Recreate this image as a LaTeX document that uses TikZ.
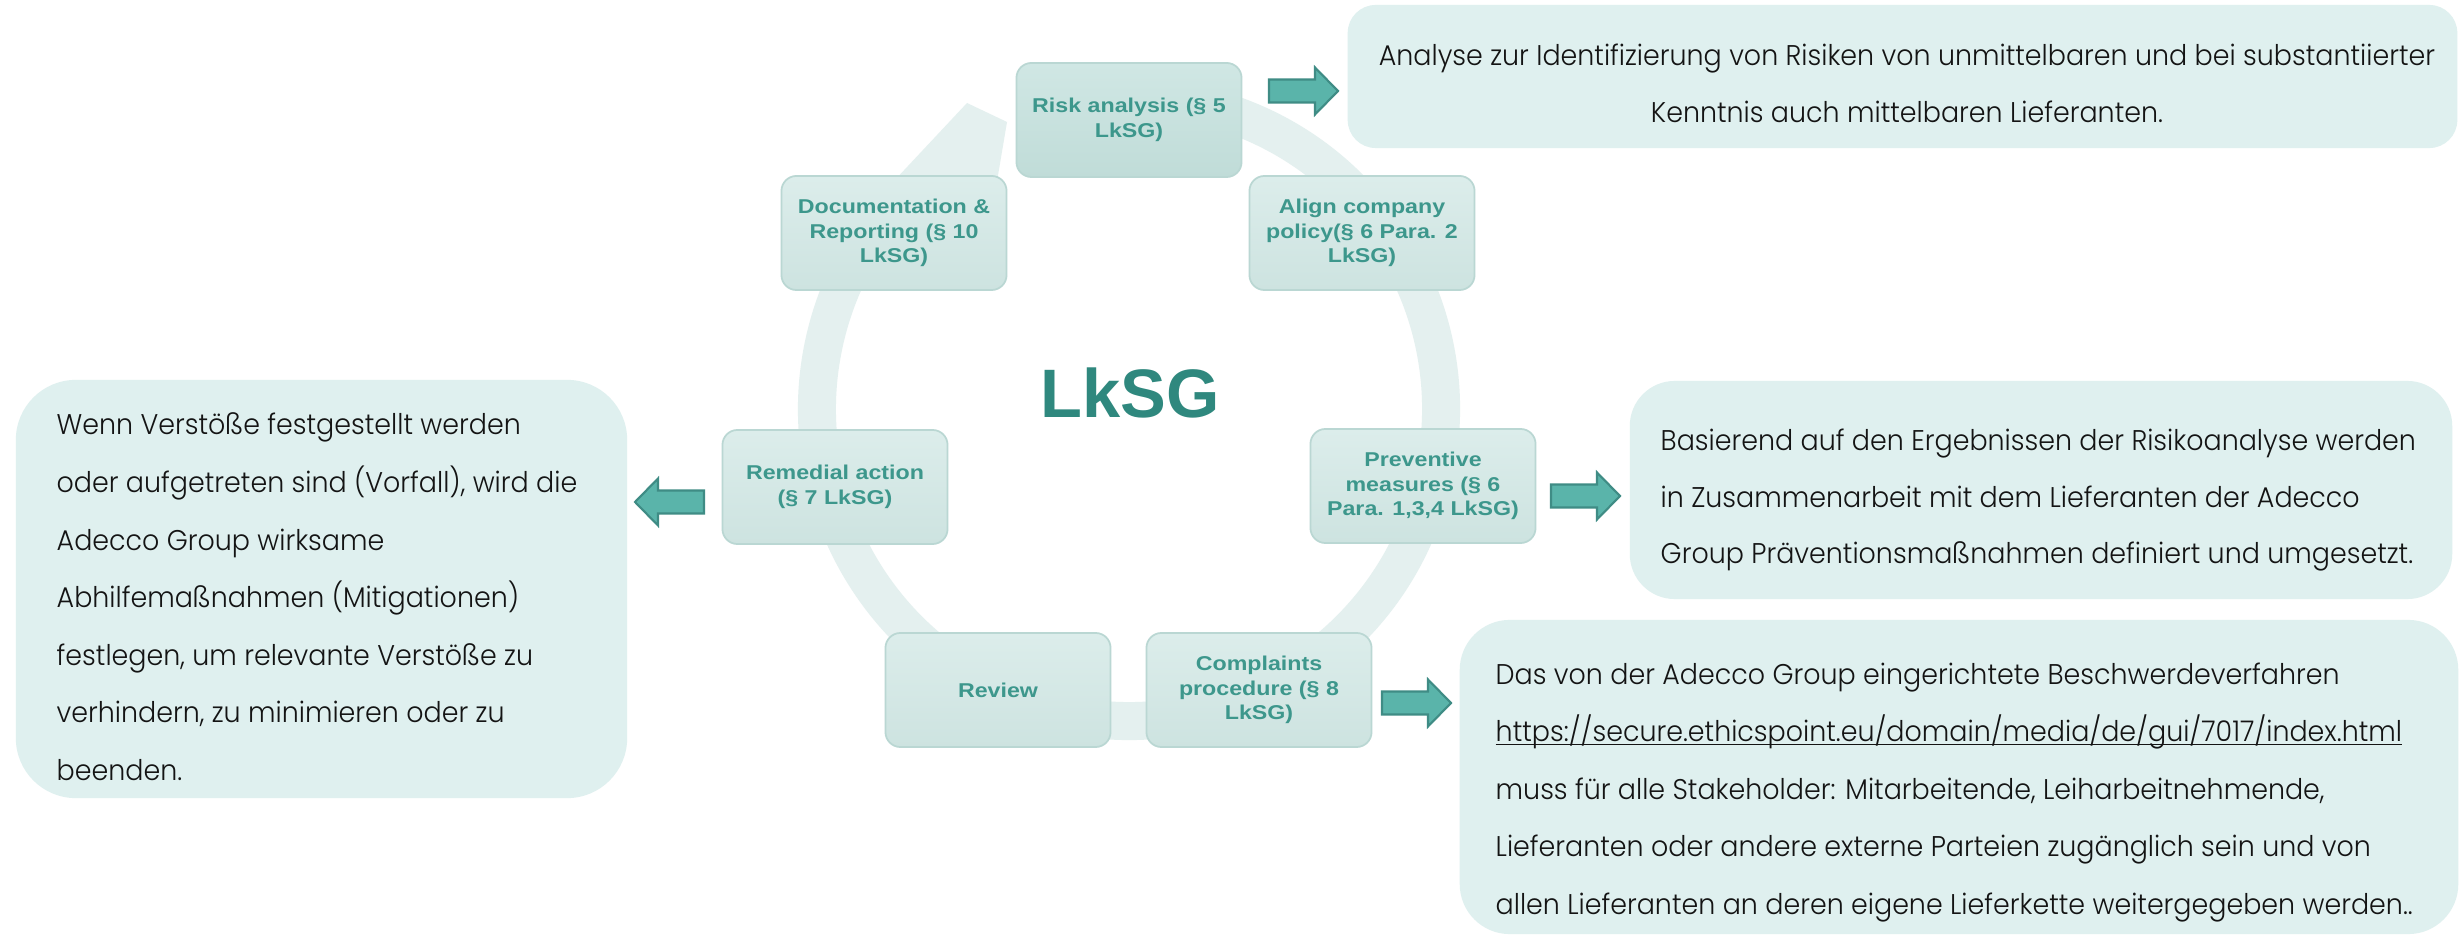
\documentclass[tikz,border=0pt]{standalone}
\usepackage{fontspec}
\usepackage{graphicx}
\setmainfont{Poppins}[UprightFont={* Light}, FakeStretch=0.945]
\newfontfamily\boxfont[FakeStretch=1.16]{Liberation Sans}
\newfontfamily\lkfont{Liberation Sans}
\usetikzlibrary{calc}
\definecolor{ringc}{HTML}{E4F0EF}
\definecolor{boxtop}{HTML}{DCEDEB}
\definecolor{boxbot}{HTML}{CDE3E0}
\definecolor{boxline}{HTML}{BAD7D3}
\definecolor{risktop}{HTML}{D0E7E4}
\definecolor{riskbot}{HTML}{C0DCD8}
\definecolor{labelc}{HTML}{3D978C}
\definecolor{lkc}{HTML}{2F887E}
\definecolor{infofill}{HTML}{DFF0EF}
\definecolor{arrfill}{HTML}{5AB4AA}
\definecolor{arrline}{HTML}{3F8C85}
\definecolor{txt}{HTML}{141414}
\newcommand\ulurl[1]{\setbox0\hbox{#1}\rlap{\rule[-1.1pt]{\wd0}{0.4pt}}\box0}
\newcommand\blockarrow[2]{%
  \filldraw[blockarr] (#1) ++(0,-11.5) -- ++({#2*46},0) -- ++(0,-12) -- ++({#2*23},23.5)
   -- ++({-#2*23},23.5) -- ++(0,-12) -- ++({-#2*46},0) -- cycle;}
\tikzset{
  cycbox/.style={rounded corners=0.15cm, draw=boxline, line width=0.5pt,
    top color=boxtop, bottom color=boxbot, minimum width=2.25cm, minimum height=1.14cm,
    inner sep=0pt, align=center, text=labelc,
    font=\boxfont\bfseries\fontsize{5.69pt}{6.97pt}\selectfont},
  riskbox/.style={top color=risktop, bottom color=riskbot},
  infobox/.style={fill=infofill, draw=none, inner sep=0pt},
  para/.style={inner sep=0pt, text=txt, font=\fontsize{8.1pt}{16.4pt}\selectfont},
  ring/.style={draw=ringc, line width=0.38cm, line cap=butt},
  blockarr/.style={fill=arrfill, draw=arrline, line width=0.6pt, line join=miter}
}
\begin{document}
\begin{tikzpicture}[x=0.01cm, y=-0.01cm]
\useasboundingbox (0,0) rectangle (2463,937);
\fill[white] (0,0) rectangle (2463,937);

% circular arrow ring
\coordinate (ctr) at (1129,409);
\draw[ring] (ctr) ++(-75:312) arc[start angle=-75, end angle=222, radius=312];
\fill[ringc] (893,182) -- (967,103) -- (1007,122) -- (993,205) -- (905,222) -- cycle;

% cycle boxes
\node[cycbox, riskbox] (risk) at (1129,120) {Risk analysis (§ 5\\LkSG)};
\node[cycbox] (align) at (1362,233) {Align company\\policy(§ 6 Para. 2\\LkSG)};
\node[cycbox] (doc) at (894,233) {Documentation \&\\Reporting (§ 10\\LkSG)};
\node[cycbox] (rem) at (835,487) {Remedial action\\(§ 7 LkSG)};
\node[cycbox] (prev) at (1423,486) {Preventive\\measures (§ 6\\Para. 1,3,4 LkSG)};
\node[cycbox] (rev) at (998,690) {Review};
\node[cycbox] (comp) at (1259,690) {Complaints\\procedure (§ 8\\LkSG)};

\node[inner sep=0pt, text=lkc, anchor=base, font=\lkfont\bfseries\fontsize{19.5pt}{22pt}\selectfont] (lk) at (1130,418) {LkSG};

% info boxes
\node[infobox, minimum width=11.09cm, minimum height=1.43cm, rounded corners=0.28cm] (info1) at (1902.5,76.5) {};
\node[infobox, minimum width=8.22cm, minimum height=2.18cm, rounded corners=0.45cm] (info2) at (2041,490) {};
\node[infobox, minimum width=6.11cm, minimum height=4.18cm, rounded corners=0.6cm] (info3) at (321.5,589) {};
\node[infobox, minimum width=9.98cm, minimum height=3.14cm, rounded corners=0.5cm] (info4) at (1959,777) {};

% texts
\node[para, anchor=base] (ana1) at (1907,66) {Analyse zur Identifizierung von Risiken von unmittelbaren und bei substantiierter};
\node[para, anchor=base] (ana2) at (1907,123) {Kenntnis auch mittelbaren Lieferanten.};

\node[para, anchor=base west] (prevtxt) at (1660,451) {\vtop{\baselineskip=0.56cm
  \hbox{Basierend auf den Ergebnissen der Risikoanalyse werden}
  \hbox{in Zusammenarbeit mit dem Lieferanten der Adecco}
  \hbox{Group Präventionsmaßnahmen definiert und umgesetzt.}}};

\node[para, anchor=base west] (remtxt) at (56,435) {\vtop{\baselineskip=0.575cm
  \hbox{Wenn Verstöße festgestellt werden}
  \hbox{oder aufgetreten sind (Vorfall), wird die}
  \hbox{Adecco Group wirksame}
  \hbox{Abhilfemaßnahmen (Mitigationen)}
  \hbox{festlegen, um relevante Verstöße zu}
  \hbox{verhindern, zu minimieren oder zu}
  \hbox{beenden.}}};

\node[para, anchor=base west] (comptxt) at (1495,684) {\vtop{\baselineskip=0.575cm
  \hbox{Das von der Adecco Group eingerichtete Beschwerdeverfahren}
  \hbox{\ulurl{https://secure.ethicspoint.eu/domain/media/de/gui/7017/index.html}}
  \hbox{muss für alle Stakeholder: Mitarbeitende, Leiharbeitnehmende,}
  \hbox{Lieferanten oder andere externe Parteien zugänglich sein und von}
  \hbox{allen Lieferanten an deren eigene Lieferkette weitergegeben werden..}}};

% block arrows
\coordinate (a1) at (1269,91);
\coordinate (a2) at (704,502);
\coordinate (a3) at (1551,496);
\coordinate (a4) at (1382,703);
\blockarrow{a1}{1}
\blockarrow{a2}{-1}
\blockarrow{a3}{1}
\blockarrow{a4}{1}
\end{tikzpicture}
\end{document}
